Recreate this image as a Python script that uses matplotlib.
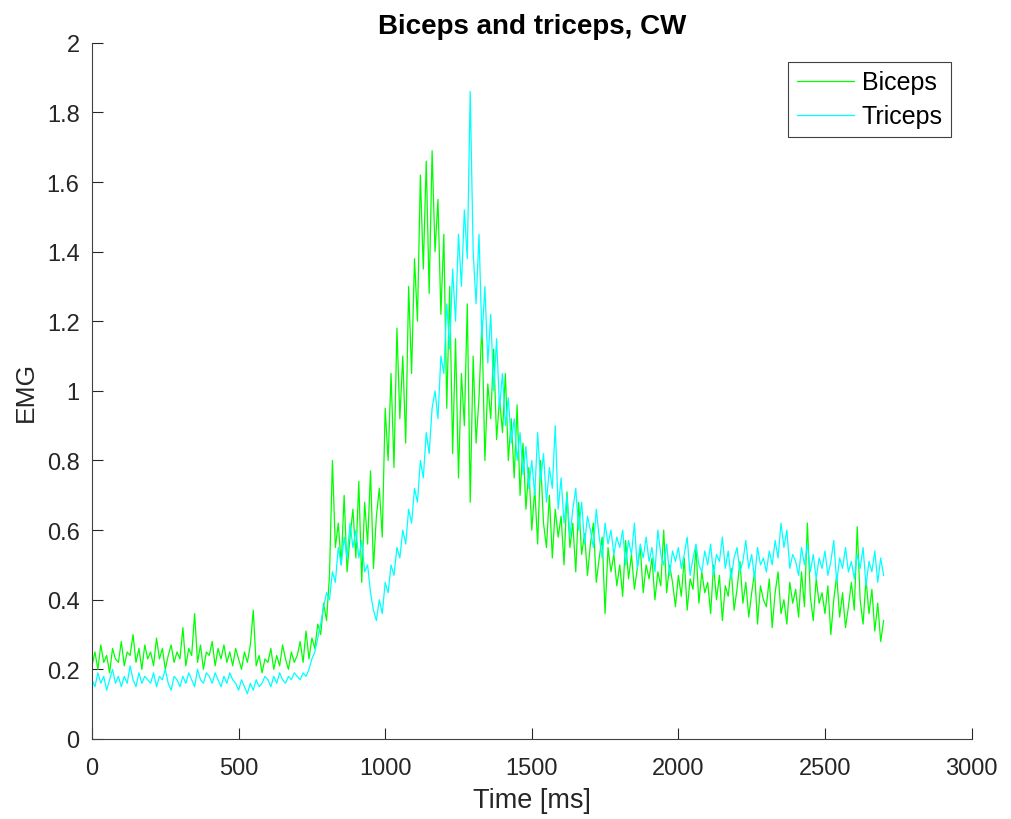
import numpy as np
from matplotlib import pyplot as plt
from matplotlib.ticker import FuncFormatter

plt.rcParams['font.family'] = ['Liberation Sans', 'DejaVu Sans']

# EMG samples every 10 ms, 0..2700 ms
t_step = 10

biceps = [
    0.21, 0.25, 0.20, 0.27, 0.22, 0.24, 0.19, 0.26, 0.23, 0.22,
    0.28, 0.21, 0.25, 0.24, 0.30, 0.22, 0.26, 0.20, 0.27, 0.23,
    0.25, 0.21, 0.29, 0.23, 0.26, 0.20, 0.24, 0.27, 0.22, 0.25,
    0.23, 0.32, 0.21, 0.26, 0.24, 0.36, 0.22, 0.27, 0.20, 0.25,
    0.24, 0.28, 0.21, 0.26, 0.23, 0.27, 0.22, 0.25, 0.21, 0.26,
    0.23, 0.20, 0.25, 0.22, 0.27, 0.37, 0.21, 0.24, 0.19, 0.23,
    0.22, 0.26, 0.20, 0.24, 0.21, 0.27, 0.23, 0.20, 0.25, 0.22,
    0.24, 0.28, 0.22, 0.31, 0.23, 0.29, 0.26, 0.33, 0.30, 0.39,
    0.34, 0.47, 0.80, 0.55, 0.62, 0.50, 0.70, 0.48, 0.58, 0.66,
    0.52, 0.74, 0.45, 0.68, 0.56, 0.77, 0.49, 0.64, 0.72, 0.58,
    0.95, 0.80, 1.05, 0.78, 1.18, 0.92, 1.10, 0.85, 1.30, 1.05,
    1.38, 1.20, 1.62, 1.35, 1.66, 1.28, 1.69, 1.40, 1.55, 1.22,
    1.45, 0.95, 1.30, 0.82, 1.15, 0.75, 1.05, 0.90, 1.25, 0.68,
    1.10, 0.85, 0.98, 1.20, 0.80, 1.02, 0.92, 1.12, 0.86, 0.98,
    0.88, 1.05, 0.80, 0.92, 0.75, 0.96, 0.70, 0.85, 0.66, 0.78,
    0.60, 0.72, 0.56, 0.80, 0.62, 0.55, 0.70, 0.52, 0.66, 0.58,
    0.64, 0.50, 0.71, 0.55, 0.62, 0.48, 0.68, 0.53, 0.59, 0.47,
    0.56, 0.62, 0.45, 0.52, 0.58, 0.36, 0.55, 0.48, 0.53, 0.44,
    0.50, 0.41, 0.57, 0.46, 0.53, 0.43, 0.49, 0.55, 0.42, 0.50,
    0.46, 0.52, 0.40, 0.48, 0.44, 0.60, 0.42, 0.50, 0.45, 0.38,
    0.47, 0.41, 0.52, 0.37, 0.46, 0.43, 0.55, 0.39, 0.48, 0.42,
    0.45, 0.36, 0.50, 0.40, 0.47, 0.34, 0.44, 0.41, 0.49, 0.37,
    0.43, 0.51, 0.39, 0.45, 0.35, 0.42, 0.48, 0.33, 0.44, 0.40,
    0.38, 0.46, 0.32, 0.42, 0.48, 0.36, 0.40, 0.33, 0.45, 0.39,
    0.43, 0.35, 0.48, 0.38, 0.62, 0.41, 0.34, 0.46, 0.39, 0.42,
    0.36, 0.44, 0.30, 0.40, 0.47, 0.35, 0.42, 0.32, 0.38, 0.45,
    0.37, 0.61, 0.40, 0.33, 0.46, 0.36, 0.43, 0.31, 0.39, 0.28, 0.34,
]

triceps = [
    0.17, 0.15, 0.19, 0.16, 0.18, 0.14, 0.17, 0.20, 0.16, 0.18,
    0.15, 0.18, 0.16, 0.21, 0.17, 0.15, 0.19, 0.16, 0.18, 0.17,
    0.16, 0.19, 0.15, 0.18, 0.17, 0.20, 0.16, 0.14, 0.18, 0.17,
    0.15, 0.18, 0.16, 0.19, 0.17, 0.15, 0.20, 0.17, 0.16, 0.19,
    0.18, 0.16, 0.19, 0.17, 0.15, 0.18, 0.16, 0.19, 0.17, 0.16,
    0.14, 0.17, 0.15, 0.13, 0.16, 0.14, 0.17, 0.15, 0.16, 0.18,
    0.17, 0.15, 0.18, 0.16, 0.19, 0.17, 0.16, 0.18, 0.17, 0.19,
    0.18, 0.17, 0.19, 0.18, 0.20, 0.23, 0.25, 0.29, 0.33, 0.38,
    0.42, 0.40, 0.48, 0.45, 0.55, 0.50, 0.58, 0.52, 0.62, 0.55,
    0.60, 0.52, 0.57, 0.48, 0.50, 0.42, 0.37, 0.34, 0.40, 0.36,
    0.45, 0.42, 0.50, 0.47, 0.55, 0.52, 0.60, 0.56, 0.66, 0.62,
    0.72, 0.68, 0.80, 0.75, 0.88, 0.82, 0.95, 1.00, 0.92, 1.10,
    1.05, 1.25, 1.12, 1.35, 1.20, 1.45, 1.30, 1.52, 1.38, 1.86,
    1.40, 1.25, 1.45, 1.15, 1.30, 1.08, 1.22, 1.00, 1.15, 0.95,
    1.05, 0.90, 0.98, 0.85, 0.92, 0.80, 0.88, 0.76, 0.84, 0.72,
    0.80, 0.70, 0.88, 0.74, 0.82, 0.68, 0.78, 0.72, 0.90, 0.66,
    0.75, 0.62, 0.70, 0.58, 0.66, 0.72, 0.60, 0.68, 0.56, 0.64,
    0.60, 0.55, 0.66, 0.58, 0.52, 0.62, 0.56, 0.60, 0.53, 0.58,
    0.55, 0.60, 0.50, 0.57, 0.53, 0.62, 0.49, 0.56, 0.52, 0.58,
    0.51, 0.55, 0.48, 0.60, 0.53, 0.50, 0.56, 0.47, 0.54, 0.51,
    0.55, 0.49, 0.53, 0.58, 0.47, 0.52, 0.56, 0.50, 0.48, 0.54,
    0.50, 0.56, 0.47, 0.53, 0.51, 0.58, 0.49, 0.54, 0.46, 0.52,
    0.55, 0.48, 0.51, 0.57, 0.49, 0.53, 0.46, 0.55, 0.50, 0.52,
    0.48, 0.54, 0.50, 0.57, 0.52, 0.62, 0.55, 0.60, 0.49, 0.53,
    0.51, 0.47, 0.55, 0.50, 0.56, 0.48, 0.53, 0.46, 0.52, 0.49,
    0.54, 0.47, 0.51, 0.57, 0.45, 0.52, 0.49, 0.55, 0.48, 0.51,
    0.46, 0.53, 0.49, 0.55, 0.44, 0.51, 0.48, 0.54, 0.45, 0.52, 0.47,
]

time_ms = np.arange(len(biceps)) * t_step

fig = plt.figure(figsize=(10.11, 8.2), dpi=100)
axes = fig.add_axes([0.091, 0.0976, 0.870, 0.849])

axes.plot(time_ms, biceps, color='#00ff00', linewidth=0.9, label='Biceps')
axes.plot(time_ms, triceps, color='#00ffff', linewidth=0.9, label='Triceps')

axes.set_xlim(0, 3000)
axes.set_ylim(0, 2)
axes.set_xticks(np.arange(0, 3001, 500))
axes.set_yticks(np.arange(0, 2.01, 0.2))
axes.yaxis.set_major_formatter(FuncFormatter(lambda v, p: '%g' % round(v, 1)))

for side in ('top', 'right'):
    axes.spines[side].set_visible(False)
for side in ('left', 'bottom'):
    axes.spines[side].set_color('#404040')
    axes.spines[side].set_linewidth(0.8)
axes.tick_params(direction='in', length=8, width=0.8, colors='#262626',
                 labelsize=17)
axes.tick_params(axis='x', pad=13)
axes.tick_params(axis='y', pad=9)

axes.set_xlabel('Time [ms]', fontsize=19.5, color='#262626', labelpad=6)
axes.set_ylabel('EMG', fontsize=19, color='#262626', labelpad=6)
axes.set_title('Biceps and triceps, CW', fontsize=20, fontweight='bold', pad=7)

leg = axes.legend(loc='upper right', fontsize=18, fancybox=False,
                  edgecolor='#404040', framealpha=1, handlelength=2.3,
                  handletextpad=0.3, borderpad=0.35, labelspacing=0.4,
                  borderaxespad=0, bbox_to_anchor=(0.977, 0.973))
leg.get_frame().set_linewidth(0.8)

plt.savefig('out.png', dpi=100)
